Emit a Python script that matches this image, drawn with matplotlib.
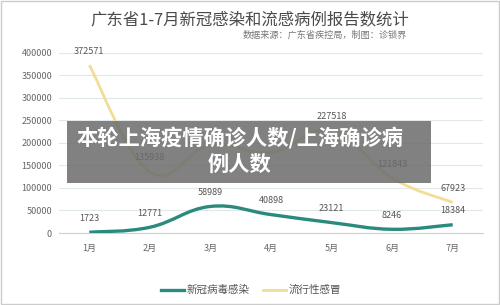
import matplotlib.pyplot as plt
import numpy as np
from matplotlib.path import Path
from matplotlib.patches import PathPatch, Rectangle

plt.rcParams['font.family'] = ['Noto Sans CJK SC', 'DejaVu Sans']

months = ['1月', '2月', '3月', '4月', '5月', '6月', '7月']
covid = [1723, 12771, 58989, 40898, 23121, 8246, 18384]
flu = [372571, 135938, 195351, 178872, 227518, 121843, 67923]
flu_labels = ['372571', '135938', '', '', '227518', '121843', '67923']
yticks = [0, 50000, 100000, 150000, 200000, 250000, 300000, 350000, 400000]

teal = '#2a8a7e'
yellow = '#f3dc95'


def smooth_path(xs, ys, k=0.2):
    # cubic bezier through the points, echarts-like smoothing
    pts = np.column_stack([xs, ys]).astype(float)
    verts = [pts[0]]
    codes = [Path.MOVETO]
    n = len(pts)
    for i in range(n - 1):
        p0 = pts[max(i - 1, 0)]
        p1 = pts[i]
        p2 = pts[i + 1]
        p3 = pts[min(i + 2, n - 1)]
        c1 = p1 + (p2 - p0) * k
        c2 = p2 - (p3 - p1) * k
        verts += [c1, c2, p2]
        codes += [Path.CURVE4] * 3
    return Path(verts, codes)


fig = plt.figure(figsize=(5, 3.05), dpi=100)
ax = fig.add_axes([0.118, 0.236, 0.848, 0.591])

x = np.arange(len(months))
ax.add_patch(PathPatch(smooth_path(x, flu), fill=False, edgecolor=yellow, lw=2, zorder=3))
ax.add_patch(PathPatch(smooth_path(x, covid), fill=False, edgecolor=teal, lw=2.4, zorder=4))
ax.plot([], [], color=teal, lw=2.4, label='新冠病毒感染')
ax.plot([], [], color=yellow, lw=2, label='流行性感冒')

for i in range(len(months)):
    ax.annotate(str(covid[i]), (x[i], covid[i]), xytext=(0, 10), textcoords='offset points',
                ha='center', va='center', fontsize=6.5, color='#555555')
    if flu_labels[i]:
        ax.annotate(flu_labels[i], (x[i], flu[i]), xytext=(0, 10), textcoords='offset points',
                    ha='center', va='center', fontsize=6.5, color='#555555')

ax.set_xlim(-0.5, 6.5)
ax.set_ylim(0, 400000)
ax.set_yticks(yticks)
ax.set_yticklabels([str(v) for v in yticks])
ax.set_xticks(x)
ax.set_xticklabels(months)
ax.tick_params(length=0, labelsize=6.5, colors='#666666')
ax.tick_params(axis='x', pad=8)
ax.tick_params(axis='y', pad=5)
ax.grid(axis='y', color='#e0e8ea', lw=0.8)
ax.set_axisbelow(True)
for s in ['top', 'right', 'left']:
    ax.spines[s].set_visible(False)
ax.spines['bottom'].set_color('#d0d0d0')

fig.text(0.5, 0.935, '广东省1-7月新冠感染和流感病例报告数统计', ha='center', va='center',
         fontsize=11.8, color='#4a4a4a')
fig.text(0.814, 0.885, '数据来源：广东省疾控局，制图：诊锁界', ha='right', va='center',
         fontsize=6.6, color='#777777')

fig.legend(loc='center', bbox_to_anchor=(0.502, 0.049), ncol=2, frameon=False,
           fontsize=7.6, handlelength=2.2, handletextpad=0.3, columnspacing=1.2,
           labelcolor='#555555')

# grey banner over the chart
fig.add_artist(Rectangle((0.134, 0.4), 0.728, 0.203, transform=fig.transFigure,
                         facecolor='#6b6b6b', alpha=0.85, edgecolor='none', zorder=10))
fig.text(0.48, 0.545, '本轮上海疫情确诊人数/上海确诊病', ha='center', va='center',
         fontsize=15.3, color='white', fontweight='bold', zorder=11)
fig.text(0.48, 0.462, '例人数', ha='center', va='center',
         fontsize=15.3, color='white', fontweight='bold', zorder=11)

fig.add_artist(Rectangle((0.002, 0.003), 0.996, 0.994, transform=fig.transFigure,
                         facecolor='none', edgecolor='#cccccc', lw=1))

fig.savefig('out.png', dpi=100)
